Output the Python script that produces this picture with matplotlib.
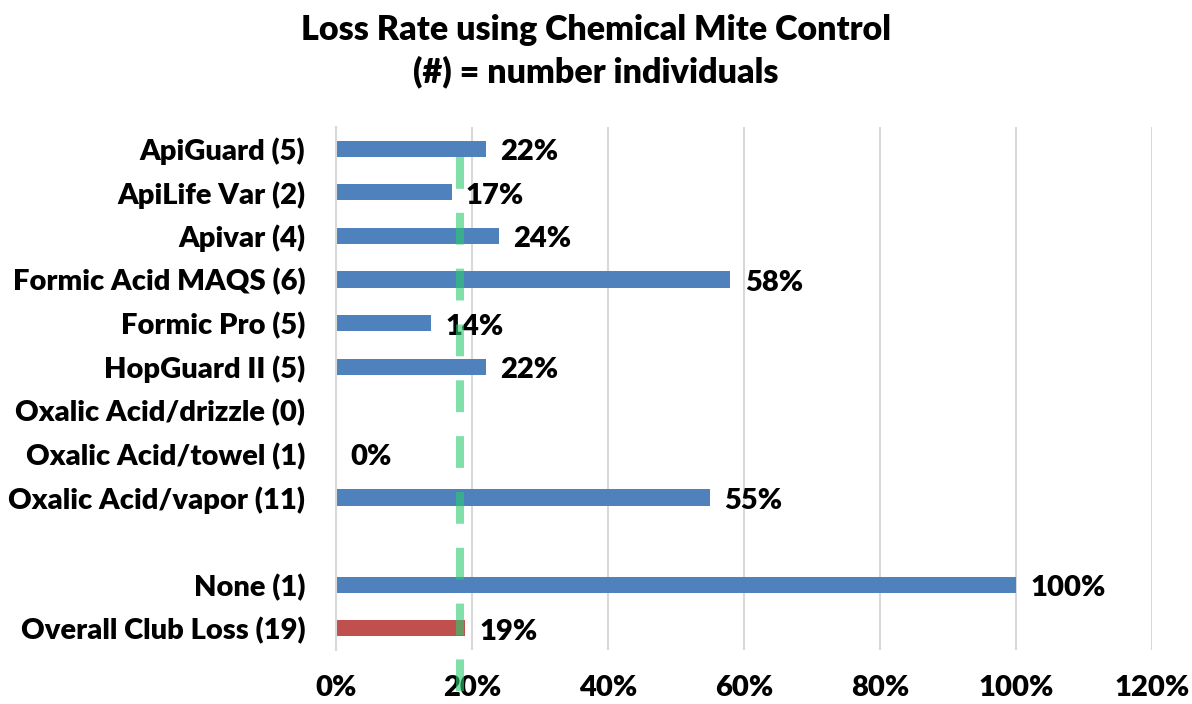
"""Horizontal bar chart: loss rate by chemical mite control."""

import matplotlib

matplotlib.use("Agg")
import matplotlib.pyplot as plt
import numpy as np
from matplotlib.ticker import FuncFormatter

categories = [
    "ApiGuard (5)",
    "ApiLife Var (2)",
    "Apivar (4)",
    "Formic Acid MAQS (6)",
    "Formic Pro (5)",
    "HopGuard II (5)",
    "Oxalic Acid/drizzle (0)",
    "Oxalic Acid/towel (1)",
    "Oxalic Acid/vapor (11)",
    "",
    "None (1)",
    "Overall Club Loss (19)",
]
loss_rates = [22, 17, 24, 58, 14, 22, None, 0, 55, None, 100, 19]
bar_colors = ["#4F81BD"] * 11 + ["#C0504D"]
club_average = 18.3
x_ticks = [0, 20, 40, 60, 80, 100, 120]

WEIGHT = "heavy"
plt.rcParams["font.family"] = ["Lato", "DejaVu Sans"]
plt.rcParams["font.weight"] = WEIGHT

fig = plt.figure(figsize=(11.92, 7.04), dpi=100)
ax = fig.add_axes([336 / 1192, 1 - 650 / 704, (1152 - 336) / 1192, (650 - 127) / 704])

y = np.arange(len(categories))
for pos, value, color in zip(y, loss_rates, bar_colors):
    if value is None:
        continue
    ax.barh(pos, value, height=0.37, color=color, zorder=2)
    ax.text(value + 2.1, pos + 0.08, f"{value}%", va="center", ha="left",
            fontsize=21, fontweight=WEIGHT, color="black")

# dashed reference line for the club average, runs past the axes into the tick labels
ax.plot([club_average, club_average], [0.19, 12.46], color="#2ECC71", alpha=0.6,
        linewidth=5.8, linestyle=(0, (3.95, 2.98)), solid_capstyle="butt",
        zorder=3, clip_on=False)

ax.set_xlim(0, 120)
ax.set_ylim(len(categories) - 0.5, -0.5)
ax.set_xticks(x_ticks)
ax.xaxis.set_major_formatter(FuncFormatter(lambda v, _: f"{v:.0f}%"))
ax.set_yticks(y)
ax.set_yticklabels(categories)
ax.tick_params(axis="both", length=0, labelsize=21)
ax.tick_params(axis="x", pad=18)
ax.tick_params(axis="y", pad=22)
for label in ax.get_xticklabels() + ax.get_yticklabels():
    label.set_fontweight(WEIGHT)

ax.grid(axis="x", color="#D9D9D9", linewidth=1.5, zorder=0)
for side in ["top", "right", "bottom"]:
    ax.spines[side].set_visible(False)
ax.spines["left"].set_color("#D9D9D9")
ax.spines["left"].set_linewidth(1.5)

fig.text(0.5, 1 - 30 / 704, "Loss Rate using Chemical Mite Control",
         ha="center", va="center", fontsize=24.5, fontweight=WEIGHT)
fig.text(0.5, 1 - 72 / 704, "(#) = number individuals",
         ha="center", va="center", fontsize=24.5, fontweight=WEIGHT)

fig.savefig("out.png", dpi=100)
